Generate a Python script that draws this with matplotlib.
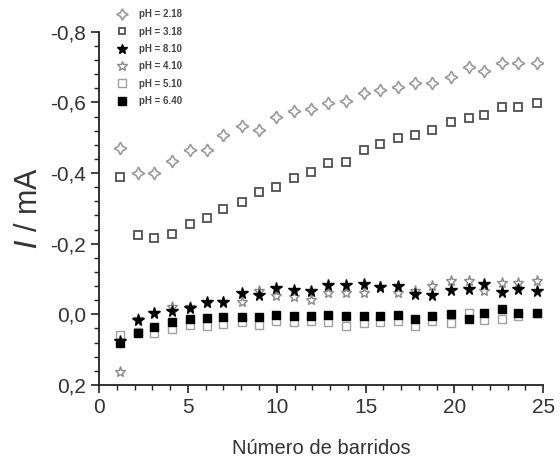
import numpy as np
import matplotlib.pyplot as plt
from matplotlib.ticker import MultipleLocator, FuncFormatter

plt.rcParams['font.family'] = ['Liberation Sans', 'DejaVu Sans']

# numero de barrido (posiciones)
barridos = [1.2, 2.2, 3.1, 4.1, 5.1, 6.1, 7.0, 8.05, 9.0, 9.95, 10.95, 11.95, 12.9,
            13.9, 14.9, 15.8, 16.8, 17.8, 18.75, 19.8, 20.8, 21.65, 22.7, 23.6, 24.65]

# corriente I / mA para cada pH
i_ph218 = [-0.471, -0.400, -0.400, -0.435, -0.466, -0.466, -0.507, -0.533, -0.521, -0.559,
           -0.576, -0.580, -0.597, -0.603, -0.627, -0.635, -0.644, -0.654, -0.654, -0.671,
           -0.701, -0.690, -0.713, -0.713, -0.713]
i_ph318 = [-0.388, -0.225, -0.217, -0.228, -0.255, -0.274, -0.298, -0.317, -0.347, -0.361,
           -0.385, -0.404, -0.429, -0.431, -0.466, -0.481, -0.499, -0.507, -0.523, -0.544,
           -0.556, -0.564, -0.587, -0.587, -0.597]
i_ph810 = [0.075, 0.016, -0.005, -0.010, -0.017, -0.036, -0.034, -0.060, -0.056, -0.074,
           -0.070, -0.067, -0.084, -0.084, -0.086, -0.076, -0.081, -0.057, -0.056, -0.070,
           -0.073, -0.086, -0.063, -0.073, -0.065]
i_ph410 = [0.163, 0.012, -0.005, -0.022, -0.020, -0.032, -0.036, -0.036, -0.067, -0.051,
           -0.049, -0.041, -0.060, -0.060, -0.061, -0.076, -0.061, -0.067, -0.079, -0.095,
           -0.093, -0.065, -0.089, -0.089, -0.093]
i_ph510 = [0.058, 0.050, 0.054, 0.042, 0.030, 0.032, 0.028, 0.023, 0.030, 0.019,
           0.022, 0.020, 0.022, 0.032, 0.026, 0.022, 0.020, 0.032, 0.020, 0.026,
           -0.005, 0.016, 0.014, 0.006, -0.003]
i_ph640 = [0.080, 0.052, 0.035, 0.022, 0.012, 0.011, 0.009, 0.009, 0.009, 0.001,
           0.004, 0.004, 0.001, 0.006, 0.006, 0.006, 0.003, 0.013, 0.006, -0.001,
           0.013, -0.003, -0.015, -0.005, -0.005]

etiquetas = ["pH = 2.18", "pH = 3.18", "pH = 8.10", "pH = 4.10", "pH = 5.10", "pH = 6.40"]

fig = plt.figure(figsize=(5.6, 4.61), dpi=100)
ax = fig.add_axes([0.177, 0.165, 0.793, 0.766])

estrella4 = (4, 1, 0)
ax.plot(barridos, i_ph218, ls='none', marker=estrella4, ms=9, mfc='white', mec='#9a9a9a', mew=1.2, label=etiquetas[0])
ax.plot(barridos, i_ph318, ls='none', marker='s', ms=5.5, mfc='white', mec='#505050', mew=1.3, label=etiquetas[1])
ax.plot(barridos, i_ph410, ls='none', marker='*', ms=8, mfc='white', mec='#8a8a8a', mew=1.0, label=etiquetas[3], zorder=2)
ax.plot(barridos, i_ph810, ls='none', marker='*', ms=8.5, mfc='black', mec='black', mew=1.0, label=etiquetas[2], zorder=3)
ax.plot(barridos, i_ph510, ls='none', marker='s', ms=6, mfc='white', mec='#a0a0a0', mew=1.0, label=etiquetas[4], zorder=2)
ax.plot(barridos, i_ph640, ls='none', marker='s', ms=6, mfc='black', mec='black', label=etiquetas[5], zorder=4)

ax.set_xlim(0, 25)
ax.set_ylim(0.2, -0.8)
ax.xaxis.set_major_locator(MultipleLocator(5))
ax.xaxis.set_minor_locator(MultipleLocator(1))
ax.yaxis.set_major_locator(MultipleLocator(0.2))
ax.yaxis.set_minor_locator(MultipleLocator(0.04))
ax.yaxis.set_major_formatter(FuncFormatter(lambda v, p: ("%.1f" % (0 if abs(v) < 1e-9 else v)).replace('.', ',')))

for s in ['top', 'right']:
    ax.spines[s].set_visible(False)
for s in ['left', 'bottom']:
    ax.spines[s].set_linewidth(1.3)
    ax.spines[s].set_color('#222222')
ax.tick_params(which='major', direction='out', length=6, width=1.2, labelsize=15, labelcolor='#333333', color='#222222')
ax.tick_params(which='minor', direction='out', length=3.5, width=1.0, color='#222222')

ax.set_xlabel("Número de barridos", fontsize=14.5, color='#333333', labelpad=16)
ax.set_ylabel("$\\it{I}$ / mA", fontsize=22, color='#333333', labelpad=4)

h, l = ax.get_legend_handles_labels()
orden = [l.index(e) for e in etiquetas]
leg = ax.legend([h[k] for k in orden], [l[k] for k in orden], loc='upper left',
                bbox_to_anchor=(0.198, 0.99), bbox_transform=fig.transFigure,
                frameon=False, fontsize=7, handlelength=1.2, handletextpad=1.2,
                labelspacing=0.75, markerscale=0.9, borderpad=0)
for t in leg.get_texts():
    t.set_color('#444444')
    t.set_fontweight('bold')

fig.savefig("out.png", dpi=100)
